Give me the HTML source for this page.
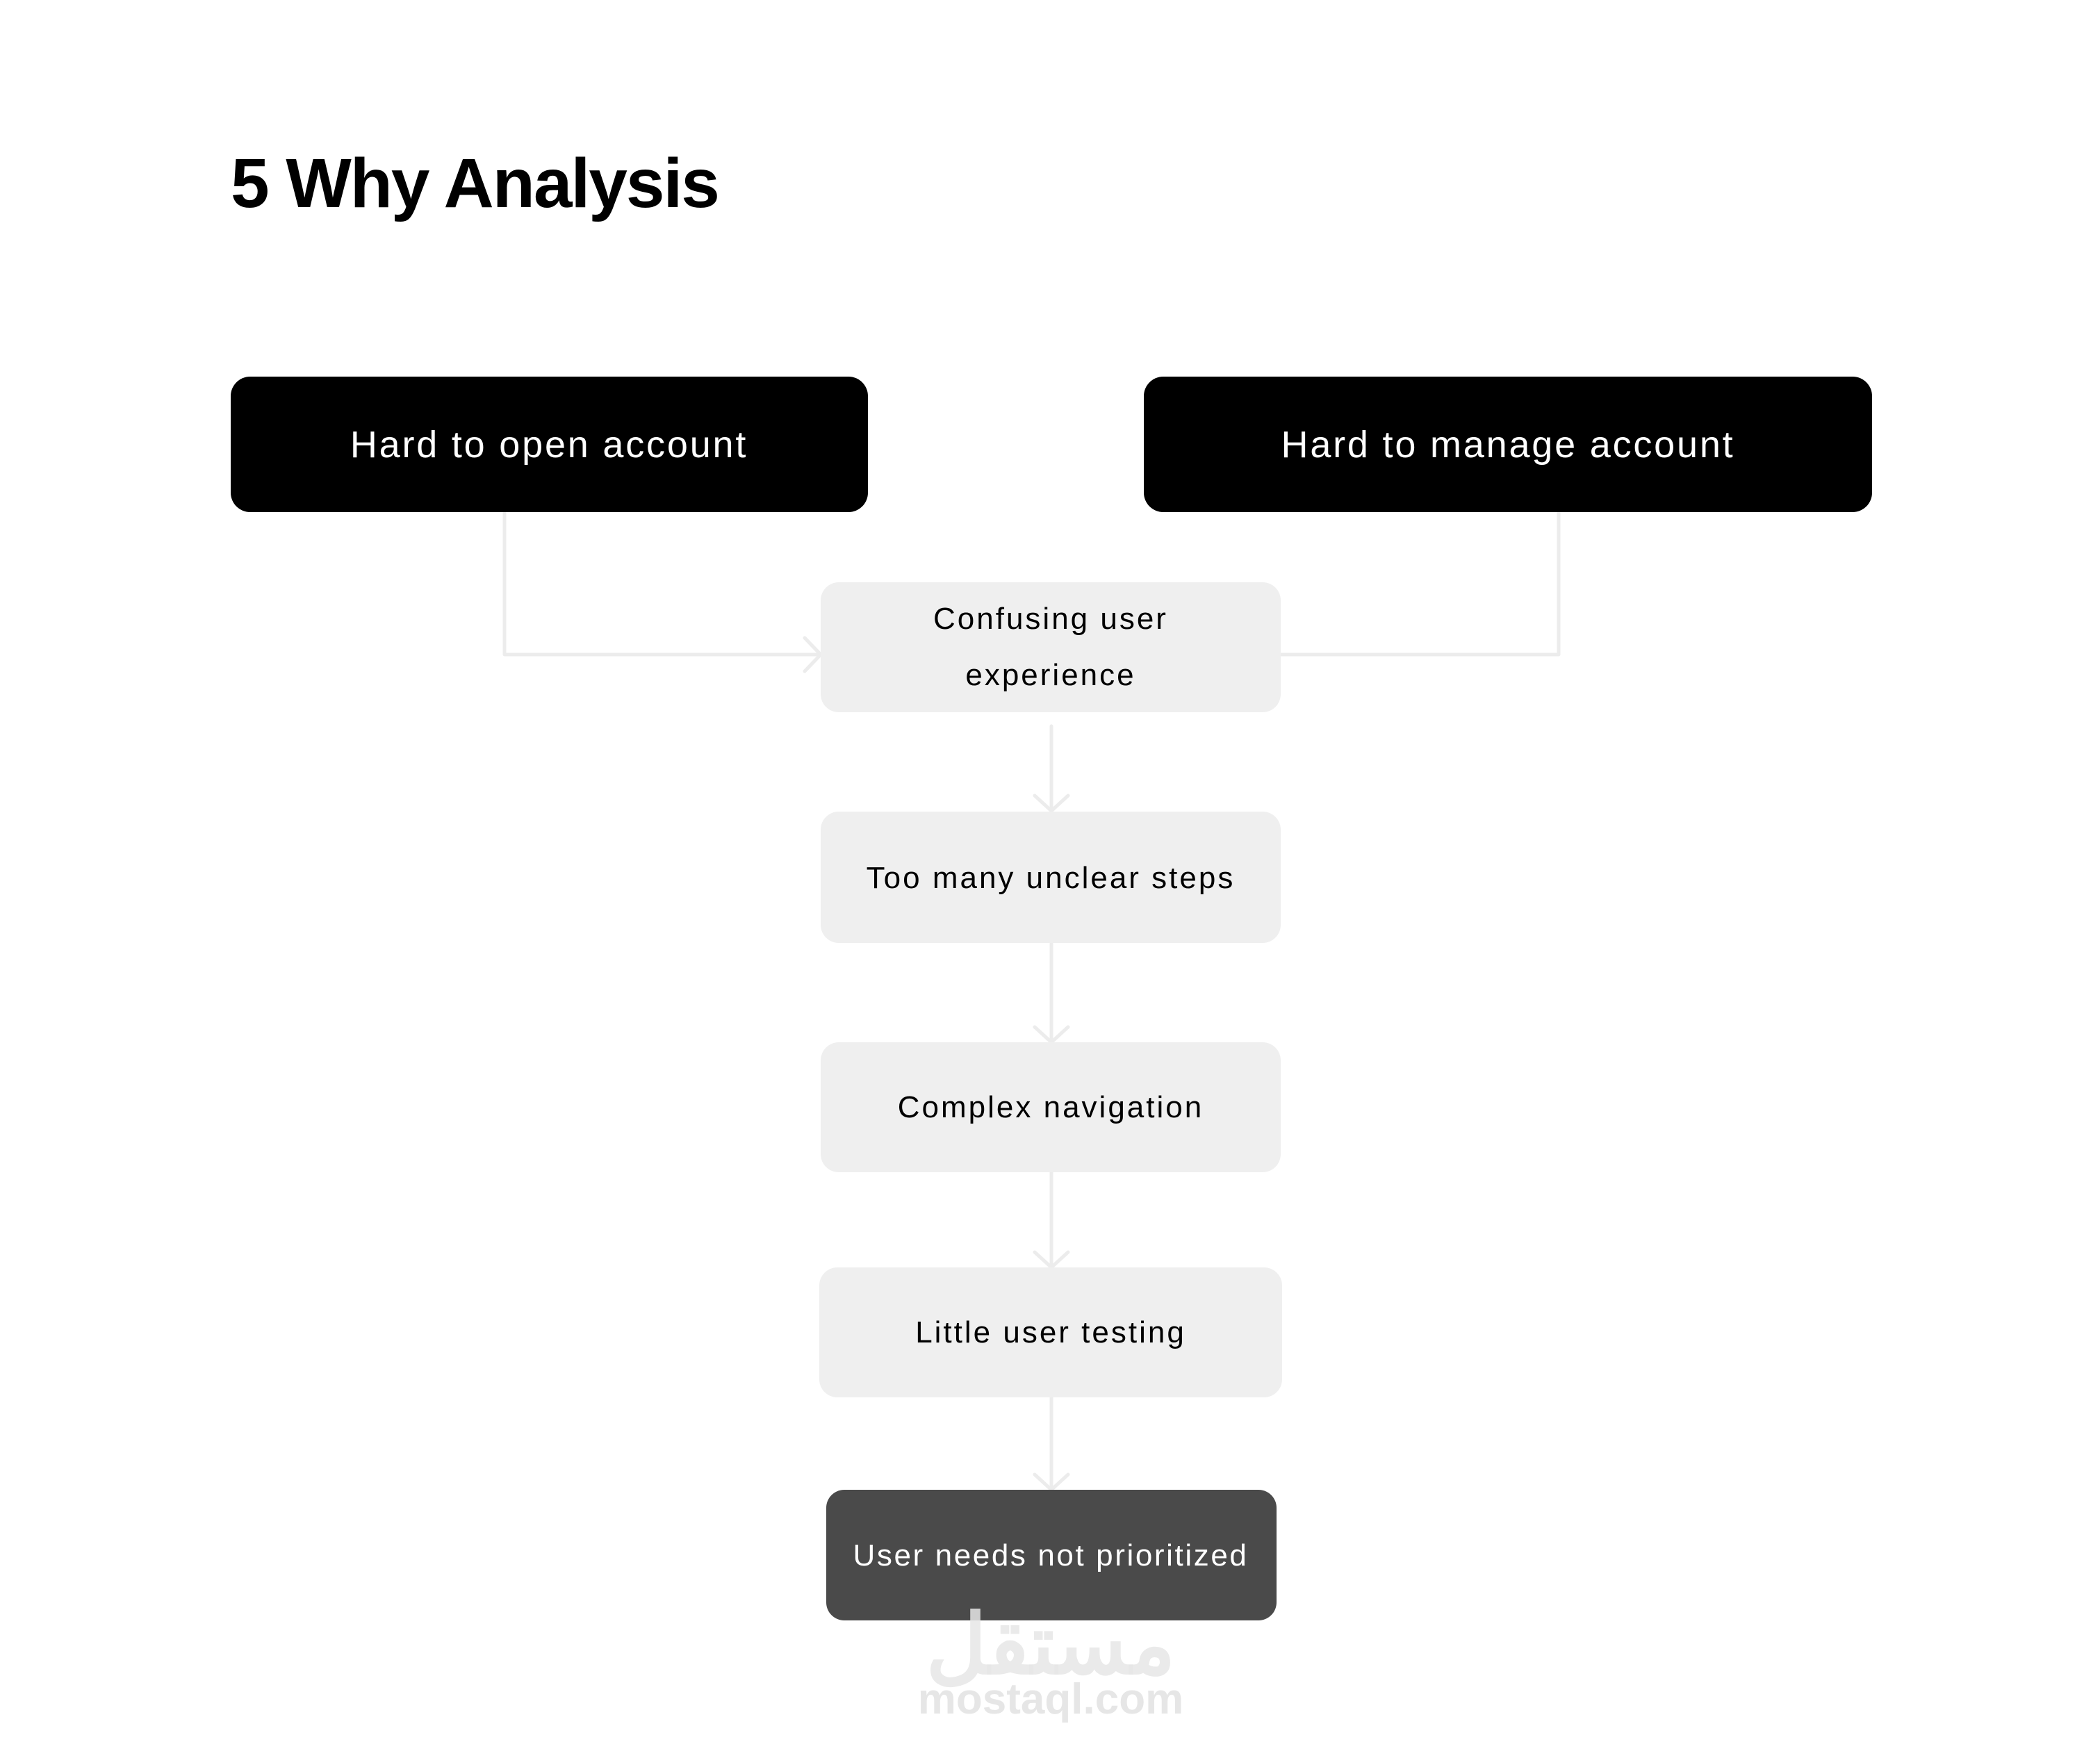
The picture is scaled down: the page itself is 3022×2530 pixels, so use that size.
<!DOCTYPE html>
<html><head><meta charset="utf-8"><style>
html,body{margin:0;padding:0;background:#fff;}
svg{display:block;}
text{font-family:"Liberation Sans","Noto Sans CJK SC",sans-serif;}
</style></head><body>
<svg width="3022" height="2530" viewBox="0 0 3022 2530" xmlns="http://www.w3.org/2000/svg">
<rect width="3022" height="2530" fill="#fff"/>
<text x="332" y="298" font-size="100" font-weight="bold" fill="#000" letter-spacing="-2">5 Why Analysis</text>

<g stroke="#ececec" stroke-width="5" fill="none" stroke-linecap="round" stroke-linejoin="round">
<polyline points="726,737 726,942 1181,942"/>
<polyline points="1158,918 1181,942 1158,966"/>
<polyline points="2243,737 2243,942 1843,942"/>
<line x1="1513" y1="1045" x2="1513" y2="1167"/>
<polyline points="1489,1145 1513,1167 1537,1145"/>
<line x1="1513" y1="1357" x2="1513" y2="1500"/>
<polyline points="1489,1478 1513,1500 1537,1478"/>
<line x1="1513" y1="1687" x2="1513" y2="1824"/>
<polyline points="1489,1802 1513,1824 1537,1802"/>
<line x1="1513" y1="2011" x2="1513" y2="2144"/>
<polyline points="1489,2122 1513,2144 1537,2122"/>
</g>

<rect x="332" y="542" width="917" height="195" rx="28" fill="#000"/>
<text x="790" y="658" font-size="54" fill="#fff" text-anchor="middle" letter-spacing="2.8">Hard to open account</text>
<rect x="1646" y="542" width="1048" height="195" rx="28" fill="#000"/>
<text x="2170" y="658" font-size="54" fill="#fff" text-anchor="middle" letter-spacing="2.8">Hard to manage account</text>

<rect x="1181" y="838" width="662" height="187" rx="26" fill="#efefef"/>
<text x="1512" y="905" font-size="44" fill="#000" text-anchor="middle" letter-spacing="3">Confusing user</text>
<text x="1512" y="986" font-size="44" fill="#000" text-anchor="middle" letter-spacing="3">experience</text>

<rect x="1181" y="1168" width="662" height="189" rx="26" fill="#efefef"/>
<text x="1512" y="1278" font-size="44" fill="#000" text-anchor="middle" letter-spacing="3">Too many unclear steps</text>

<rect x="1181" y="1500" width="662" height="187" rx="26" fill="#efefef"/>
<text x="1512" y="1608" font-size="44" fill="#000" text-anchor="middle" letter-spacing="3">Complex navigation</text>

<rect x="1179" y="1824" width="666" height="187" rx="26" fill="#efefef"/>
<text x="1512" y="1932" font-size="44" fill="#000" text-anchor="middle" letter-spacing="3">Little user testing</text>

<rect x="1189" y="2144" width="648" height="188" rx="26" fill="#4a4a4a"/>
<text x="1512" y="2253" font-size="44" fill="#fff" text-anchor="middle" letter-spacing="2.6">User needs not prioritized</text>

<text x="1512" y="2408" font-size="120" font-weight="bold" fill="#e6e6e6" fill-opacity="0.85" text-anchor="middle" font-family="'DejaVu Sans',sans-serif">مستقل</text>
<text x="1512" y="2466" font-size="62" font-weight="bold" fill="#e6e6e6" text-anchor="middle">mostaql.com</text>
</svg>
</body></html>
